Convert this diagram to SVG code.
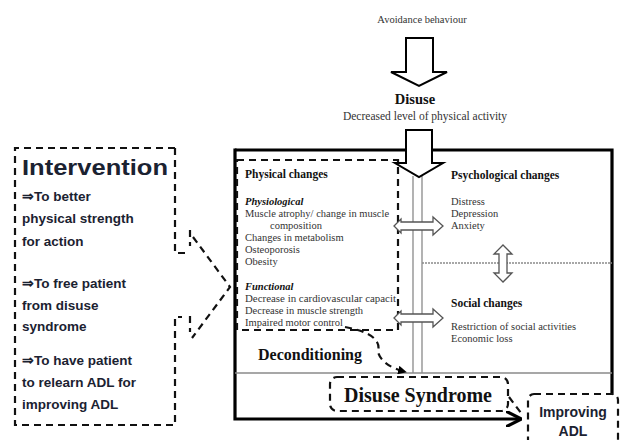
<svg xmlns="http://www.w3.org/2000/svg" width="627" height="440" viewBox="0 0 627 440">
<style>
.serif{font-family:"Liberation Serif","Times New Roman",serif;fill:#333}
.b{font-weight:bold;fill:#111}
.sm{font-size:10.5px}
.sans{font-family:"Liberation Sans",Arial,sans-serif;font-weight:bold;fill:#1b2231}
.dash{fill:none;stroke:#111;stroke-width:2.2;stroke-dasharray:7 5}
.thick{fill:none;stroke:#000;stroke-width:3.2}
.thin{fill:none;stroke:#8a8a8a;stroke-width:1.3}
.hollow{fill:#fff;stroke:#555;stroke-width:1.3}
.big{fill:#fff;stroke:#000;stroke-width:2}
</style>
<defs>
<marker id="ah" viewBox="0 0 10 10" refX="9" refY="5" markerWidth="5" markerHeight="5" orient="auto">
<path d="M0,0 L10,5 L0,10" fill="none" stroke="#000" stroke-width="2"/>
</marker>
<marker id="ahf" viewBox="0 0 10 10" refX="9" refY="5" markerWidth="4" markerHeight="4" orient="auto">
<path d="M0,0 L10,5 L0,10 Z" fill="#000"/>
</marker>
</defs>

<g id="frame">
<path class="thick" d="M235,150 H612 V395"/>
<path class="thick" d="M235,148.5 V419 H520" marker-end="url(#ah)"/>
<path class="thin" d="M235,373 H612"/>
<path class="thin" d="M413,176 V373 M422,176 V373"/>
<path class="thin" stroke-dasharray="2 1" d="M422,263 H612"/>
</g>

<g id="avoidance">
<text class="serif" x="422" y="23" font-size="10.5" text-anchor="middle">Avoidance behaviour</text>
</g>

<g id="disuse">
<text class="serif b" x="415" y="104" font-size="14.5" text-anchor="middle">Disuse</text>
<text class="serif" x="425" y="120" font-size="11.5" text-anchor="middle">Decreased level of physical activity</text>
</g>

<g id="physical">
<rect class="dash" x="237" y="160" width="161" height="170"/>
<text class="serif b" x="245" y="178" font-size="11.5">Physical changes</text>
<text class="serif b sm" x="245" y="205" font-style="italic">Physiological</text>
<text class="serif sm" x="245" y="217">Muscle atrophy/ change in muscle</text>
<text class="serif sm" x="270" y="229">composition</text>
<text class="serif sm" x="245" y="241">Changes in metabolism</text>
<text class="serif sm" x="245" y="253">Osteoporosis</text>
<text class="serif sm" x="245" y="265">Obesity</text>
<text class="serif b sm" x="245" y="290" font-style="italic">Functional</text>
<text class="serif sm" x="245" y="302" textLength="151" lengthAdjust="spacingAndGlyphs">Decrease in cardiovascular capacit</text>
<text class="serif sm" x="245" y="314">Decrease in muscle strength</text>
<text class="serif sm" x="245" y="326">Impaired motor control</text>
</g>

<g id="psychological">
<text class="serif b" x="451" y="179" font-size="11.5">Psychological changes</text>
<text class="serif sm" x="451" y="205">Distress</text>
<text class="serif sm" x="451" y="217">Depression</text>
<text class="serif sm" x="451" y="229">Anxiety</text>
</g>

<g id="social">
<text class="serif b" x="451" y="307" font-size="11.5">Social changes</text>
<text class="serif sm" x="451" y="330">Restriction of social activities</text>
<text class="serif sm" x="451" y="342">Economic loss</text>
</g>

<g id="deconditioning">
<text class="serif b" x="258" y="360" font-size="16">Deconditioning</text>
</g>

<g id="disuse-syndrome">
<rect class="dash" x="330" y="377" width="178" height="34" rx="7"/>
<text class="serif b" x="418" y="402" font-size="20" text-anchor="middle">Disuse Syndrome</text>
</g>

<g id="improving-adl">
<rect class="dash" x="528" y="394" width="90" height="56" rx="6"/>
<text class="sans" x="573" y="417" font-size="14" text-anchor="middle">Improving</text>
<text class="sans" x="573" y="436" font-size="14" text-anchor="middle">ADL</text>
</g>

<g id="intervention">
<path class="dash" d="M175,148 H15 V425 H175 V317 H182"/>
<path class="dash" d="M175,148 V253 H188"/>
<path class="dash" d="M190,230 V246 M193,237 L230,287 L192,338 M190,316 V332"/>
<text class="sans" x="22" y="175" font-size="22" textLength="146" lengthAdjust="spacingAndGlyphs" fill="#000">Intervention</text>
<text class="sans" x="22" y="201" font-size="13.5">⇒To better</text>
<text class="sans" x="22" y="223" font-size="13.5">physical strength</text>
<text class="sans" x="22" y="246" font-size="13.5">for action</text>
<text class="sans" x="22" y="288" font-size="13.5">⇒To free patient</text>
<text class="sans" x="22" y="310" font-size="13.5">from disuse</text>
<text class="sans" x="22" y="331" font-size="13.5">syndrome</text>
<text class="sans" x="22" y="365" font-size="13.5">⇒To have patient</text>
<text class="sans" x="22" y="387" font-size="13.5">to relearn ADL for</text>
<text class="sans" x="22" y="409" font-size="13.5">improving ADL</text>
</g>

<g id="connectors">
<path class="big" d="M406,38 H433 V72 H447 L419,86 L391,72 H406 Z"/>
<path class="big" d="M406,130 H432 V163 H443 L419,177 L395,163 H406 Z"/>
<path class="hollow" d="M394,226 L401,219 V222 H433 V217 L443,226 L433,235 V230 H401 V233 Z"/>
<path class="hollow" d="M394,318 L401,311 V314 H433 V309 L443,318 L433,327 V322 H401 V325 Z"/>
<path class="hollow" d="M503,245 L512,254 H507 V273 H512 L503,282 L494,273 H499 V254 H494 Z"/>
<path class="dash" stroke-dasharray="5 4" d="M345,327 Q383,334 378,352 Q382,366 406,372" marker-end="url(#ahf)"/>
<path class="dash" stroke-dasharray="5 4" d="M509,397 L521,413"/>
</g>
</svg>
